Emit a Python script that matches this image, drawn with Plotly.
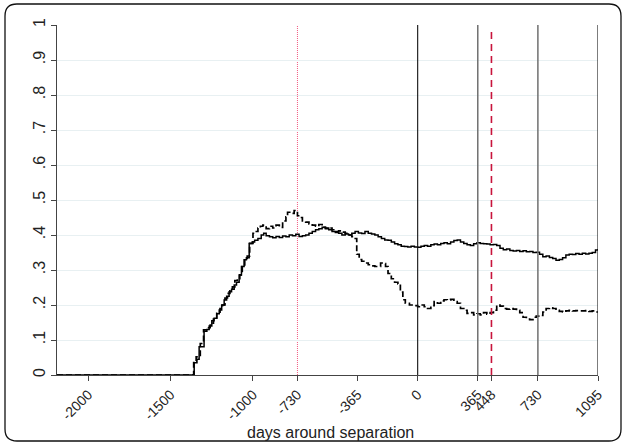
import plotly.graph_objects as go

# ---------------- data ----------------
solid_days = [-2190, -1357, -1340, -1327, -1297, -1280, -1266, -1250, -1236, -1220, -1205, -1190,
              -1175, -1160, -1145, -1130, -1114, -1100, -1084, -1070, -1054, -1040, -1023, -1005,
              -990, -970, -950, -935, -920, -900, -880, -860, -840, -820, -800, -780, -760, -740,
              -720, -700, -680, -660, -640, -620, -600, -580, -560, -540, -520, -500, -480, -460,
              -440, -420, -400, -380, -360, -340, -320, -300, -280, -260, -240, -220, -200, -180,
              -160, -140, -120, -100, -80, -60, -40, -20, 0, 20, 40, 60, 80, 100, 120, 140, 160,
              180, 200, 220, 240, 260, 280, 300, 320, 340, 360, 380, 400, 420, 440, 460, 480, 500,
              520, 540, 560, 580, 600, 620, 640, 660, 680, 700, 720, 740, 760, 780, 800, 820, 840,
              860, 880, 900, 920, 940, 960, 980, 1000, 1020, 1040, 1060, 1080, 1095]
solid_share = [0, 0.035, 0.045, 0.081, 0.125, 0.13, 0.14, 0.155, 0.162, 0.175, 0.186, 0.2,
               0.214, 0.225, 0.238, 0.245, 0.257, 0.265, 0.286, 0.31, 0.329, 0.335, 0.376, 0.38,
               0.385, 0.39, 0.40, 0.405, 0.398, 0.395, 0.392, 0.396, 0.393, 0.397, 0.395, 0.40,
               0.398, 0.402, 0.396, 0.398, 0.40, 0.405, 0.41, 0.415, 0.418, 0.422, 0.42, 0.415,
               0.41, 0.407, 0.405, 0.40, 0.403, 0.40, 0.405, 0.41, 0.406, 0.404, 0.41, 0.405,
               0.403, 0.40, 0.395, 0.39, 0.386, 0.385, 0.38, 0.375, 0.372, 0.368, 0.367, 0.366,
               0.368, 0.366, 0.365, 0.368, 0.37, 0.368, 0.372, 0.374, 0.372, 0.376, 0.378, 0.375,
               0.38, 0.384, 0.386, 0.38, 0.376, 0.372, 0.37, 0.375, 0.378, 0.376, 0.375, 0.374,
               0.372, 0.373, 0.37, 0.362, 0.358, 0.36, 0.356, 0.354, 0.356, 0.353, 0.355, 0.352,
               0.353, 0.35, 0.351, 0.345, 0.338, 0.34, 0.336, 0.333, 0.328, 0.33, 0.335, 0.343,
               0.345, 0.344, 0.347, 0.345, 0.348, 0.346, 0.348, 0.35, 0.357, 0.36]

dashed_days = [-2190, -1360, -1345, -1320, -1300, -1280, -1260, -1240, -1220, -1200, -1185, -1170,
               -1155, -1140, -1125, -1110, -1095, -1080, -1065, -1050, -1035, -1020, -1000, -985,
               -970, -955, -940, -920, -900, -880, -860, -840, -820, -800, -790, -770, -750, -730,
               -715, -700, -680, -660, -640, -620, -600, -580, -560, -540, -520, -500, -480, -460,
               -440, -420, -400, -385, -370, -355, -340, -320, -300, -280, -260, -240, -225, -210,
               -195, -180, -160, -140, -120, -105, -90, -75, -50, -20, 0, 20, 40, 60, 80, 100, 120,
               140, 160, 180, 200, 220, 240, 260, 280, 300, 320, 340, 360, 380, 400, 420, 440, 460,
               480, 500, 520, 540, 560, 580, 600, 620, 640, 660, 680, 700, 720, 740, 760, 780, 800,
               820, 840, 860, 880, 900, 920, 940, 960, 980, 1000, 1020, 1040, 1060, 1080, 1095]
dashed_share = [0, 0.04, 0.052, 0.09, 0.129, 0.135, 0.148, 0.16, 0.176, 0.19, 0.2, 0.22,
                0.233, 0.245, 0.252, 0.27, 0.275, 0.286, 0.31, 0.333, 0.34, 0.376, 0.405, 0.41,
                0.42, 0.425, 0.428, 0.418, 0.425, 0.42, 0.428, 0.422, 0.44, 0.452, 0.465, 0.462,
                0.47, 0.455, 0.45, 0.44, 0.437, 0.432, 0.428, 0.425, 0.43, 0.422, 0.418, 0.42,
                0.415, 0.41, 0.412, 0.408, 0.405, 0.40, 0.395, 0.39, 0.345, 0.33, 0.325, 0.32,
                0.315, 0.312, 0.31, 0.31, 0.32, 0.318, 0.31, 0.29, 0.275, 0.265, 0.26, 0.237,
                0.215, 0.205, 0.2, 0.198, 0.195, 0.2, 0.195, 0.19, 0.198, 0.21, 0.205, 0.212,
                0.215, 0.214, 0.216, 0.21, 0.205, 0.19, 0.185, 0.176, 0.178, 0.172, 0.175, 0.172,
                0.178, 0.174, 0.178, 0.185, 0.2, 0.197, 0.19, 0.188, 0.19, 0.188, 0.185, 0.178,
                0.165, 0.16, 0.158, 0.165, 0.168, 0.17, 0.18, 0.19, 0.192, 0.19, 0.185, 0.182,
                0.18, 0.183, 0.185, 0.183, 0.184, 0.183, 0.183, 0.184, 0.182, 0.183, 0.18, 0.178]

x_ticks = [-2000, -1500, -1000, -730, -365, 0, 365, 448, 730, 1095]
y_ticks = [0, 0.1, 0.2, 0.3, 0.4, 0.5, 0.6, 0.7, 0.8, 0.9, 1]
y_tick_labels = ["0", ".1", ".2", ".3", ".4", ".5", ".6", ".7", ".8", ".9", "1"]
x_title = "days around separation"

ref_lines_black = [0, 1095]
ref_lines_gray = [365, 730]
ref_line_dotted_red = [-730]
ref_line_dashed_red = [448]

x_range = [-2190, 1095]

# ---------------- figure ----------------
W, H = 624, 444
ML, MR, MT, MB = 57, 26, 25, 69

fig = go.Figure()
fig.add_trace(go.Scatter(x=solid_days, y=solid_share, mode="lines", line_shape="hv",
                         line=dict(color="black", width=1.5), showlegend=False))
fig.add_trace(go.Scatter(x=dashed_days, y=dashed_share, mode="lines", line_shape="hv",
                         line=dict(color="black", width=1.7, dash="6px,3px"), showlegend=False))

shapes = []
for v in ref_line_dotted_red:
    shapes.append(dict(type="line", xref="x", yref="y", x0=v, x1=v, y0=0, y1=1,
                       line=dict(color="#f25a80", width=1, dash="1px,1px"), layer="below"))
for v in ref_lines_black:
    shapes.append(dict(type="line", xref="x", yref="y", x0=v, x1=v, y0=0, y1=1,
                       line=dict(color="#111111", width=1.1)))
for v in ref_lines_gray:
    shapes.append(dict(type="line", xref="x", yref="y", x0=v, x1=v, y0=0, y1=1,
                       line=dict(color="#707070", width=1.5)))
for v in ref_line_dashed_red:
    shapes.append(dict(type="line", xref="x", yref="y", x0=v, x1=v, y0=0, y1=0.985,
                       line=dict(color="#c8143c", width=1.6, dash="7px,5px")))

# rounded outer frame in pixel coordinates converted to paper
pw, ph = W - ML - MR, H - MT - MB
def px(x):
    return (x - ML) / pw
def py(y):
    return (H - MB - y) / ph
L, R, T, B, r = 5, 621, 4, 441, 12
pts = [
    ("M", [(L + r, T)]), ("L", [(R - r, T)]), ("Q", [(R, T), (R, T + r)]),
    ("L", [(R, B - r)]), ("Q", [(R, B), (R - r, B)]), ("L", [(L + r, B)]),
    ("Q", [(L, B), (L, B - r)]), ("L", [(L, T + r)]), ("Q", [(L, T), (L + r, T)]),
]
path = ""
for cmd, ps in pts:
    path += cmd + " ".join(f"{px(a):.5f},{py(b):.5f}" for a, b in ps) + " "
path += "Z"
shapes.append(dict(type="path", xref="paper", yref="paper", path=path,
                   line=dict(color="#111111", width=1.3), layer="below"))

fig.update_layout(
    width=W, height=H,
    margin=dict(l=ML, r=MR, t=MT, b=MB, autoexpand=False),
    paper_bgcolor="white", plot_bgcolor="white",
    font=dict(family="Liberation Sans, Arial, sans-serif", color="#222222", size=14),
    shapes=shapes,
    annotations=[dict(text=x_title, xref="paper", yref="paper", x=px(330), y=py(432),
                      xanchor="center", yanchor="middle", showarrow=False,
                      font=dict(size=16, color="#222222"))],
    xaxis=dict(range=x_range, tickmode="array", tickvals=x_ticks, automargin=False,
               ticktext=[str(t) for t in x_ticks], tickangle=-45,
               showgrid=False, zeroline=False, showline=True, linecolor="#444444",
               linewidth=1, ticks="outside", ticklen=5, tickcolor="#444444",
               tickfont=dict(size=14, color="#222222")),
    yaxis=dict(range=[0, 1], tickmode="array", tickvals=y_ticks, ticktext=y_tick_labels,
               automargin=False,
               tickangle=-90, showgrid=True, gridcolor="#e8f0f2", gridwidth=1,
               zeroline=False, showline=True, linecolor="#444444", linewidth=1,
               ticks="outside", ticklen=5, tickcolor="#444444",
               tickfont=dict(size=16, color="#222222")),
)

fig.write_html("out.html", config={"displayModeBar": False},
               post_script="document.body.style.margin='0';document.body.style.overflow='hidden';")
